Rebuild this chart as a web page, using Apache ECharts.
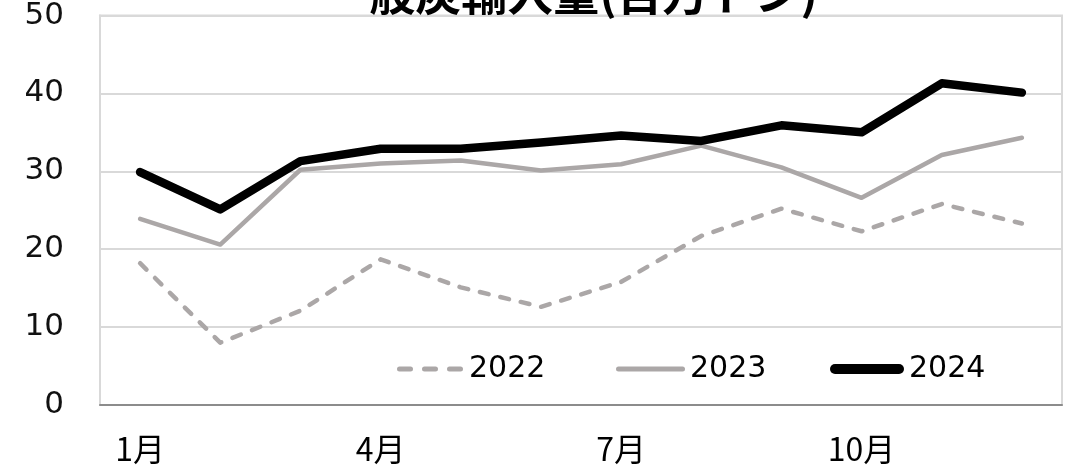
<!DOCTYPE html>
<html>
<head>
<meta charset="utf-8">
<script src="https://cdn.jsdelivr.net/npm/echarts@6/dist/echarts.min.js"></script>
<style>
html,body{margin:0;padding:0;background:#fff;}
#c{width:1071px;height:469px;}
</style>
</head>
<body>
<div id="c"></div>
<script>
const titleText = '一般炭輸入量(百万トン)';
const months = ['1月','2月','3月','4月','5月','6月','7月','8月','9月','10月','11月','12月'];
const seriesNames = ['2022', '2023', '2024'];
const s2022 = [18.2, 8.0, 12.1, 18.7, 15.1, 12.6, 15.8, 21.7, 25.2, 22.3, 25.8, 23.3];
const s2023 = [23.9, 20.6, 30.2, 31.0, 31.4, 30.1, 30.9, 33.3, 30.5, 26.6, 32.1, 34.3];
const s2024 = [29.9, 25.1, 31.3, 32.9, 32.9, 33.7, 34.6, 33.9, 35.9, 35.0, 41.3, 40.1];
const yTicks = [0, 10, 20, 30, 40, 50];

const chart = echarts.init(document.getElementById('c'), null, {renderer: 'canvas'});
const gray = '#aba7a7';
const legendText = {fontSize: 30, color: '#000', fontFamily: 'DejaVu Sans'};
const dashIcon = 'path://M2.5,0h11a2.5,2.5 0 0 1 0,5h-11a2.5,2.5 0 0 1 0,-5z' +
  'M27.5,0h11a2.5,2.5 0 0 1 0,5h-11a2.5,2.5 0 0 1 0,-5z' +
  'M52.5,0h11a2.5,2.5 0 0 1 0,5h-11a2.5,2.5 0 0 1 0,-5z';
const solidIcon = 'path://M2.5,0h64a2.5,2.5 0 0 1 0,5h-64a2.5,2.5 0 0 1 0,-5z';
const thickIcon = 'path://M5,0h64a5,5 0 0 1 0,10h-64a5,5 0 0 1 0,-10z';
chart.setOption({
  animation: false,
  backgroundColor: '#fff',
  title: {
    text: titleText,
    right: 248,
    top: -35,
    textStyle: {fontSize: 46, fontWeight: 'bold', color: '#000', fontFamily: 'Noto Sans CJK JP'}
  },
  grid: {left: 100, right: 9, top: 15, bottom: 64, show: true, borderColor: '#d9d9d9', borderWidth: 2},
  legend: [
    {left: 397, top: 354, padding: 0, itemWidth: 68, itemHeight: 5, icon: dashIcon,
     textStyle: legendText, data: [seriesNames[0]]},
    {left: 616, top: 354, padding: 0, itemWidth: 69, itemHeight: 5, icon: solidIcon,
     textStyle: legendText, data: [seriesNames[1]]},
    {left: 830, top: 354, padding: 0, itemWidth: 74, itemHeight: 10, icon: thickIcon,
     textStyle: legendText, data: [seriesNames[2]]}
  ],
  xAxis: {
    type: 'category',
    data: months,
    boundaryGap: true,
    axisLine: {show: true, lineStyle: {color: '#8c8c8c', width: 2}},
    axisTick: {show: false},
    axisLabel: {interval: 2, margin: 28, fontSize: 32, color: '#000', fontFamily: 'Noto Sans CJK JP'}
  },
  yAxis: {
    type: 'value',
    min: yTicks[0], max: yTicks[yTicks.length - 1], interval: 10,
    axisLine: {show: true, lineStyle: {color: '#d9d9d9', width: 2}},
    axisTick: {show: false},
    splitLine: {lineStyle: {color: '#d9d9d9', width: 2}},
    axisLabel: {margin: 36, fontSize: 31, color: '#111', fontFamily: 'DejaVu Sans'}
  },
  series: [
    {name: seriesNames[0], type: 'line', data: s2022, symbol: 'none',
     lineStyle: {color: gray, width: 4.5, type: [9, 12], cap: 'round', join: 'round'}, itemStyle: {color: gray}},
    {name: seriesNames[1], type: 'line', data: s2023, symbol: 'none',
     lineStyle: {color: gray, width: 4.5, cap: 'round', join: 'round'}, itemStyle: {color: gray}},
    {name: seriesNames[2], type: 'line', data: s2024, symbol: 'none',
     lineStyle: {color: '#000', width: 8.5, cap: 'round', join: 'round'}, itemStyle: {color: '#000'}}
  ]
});
</script>
</body>
</html>
